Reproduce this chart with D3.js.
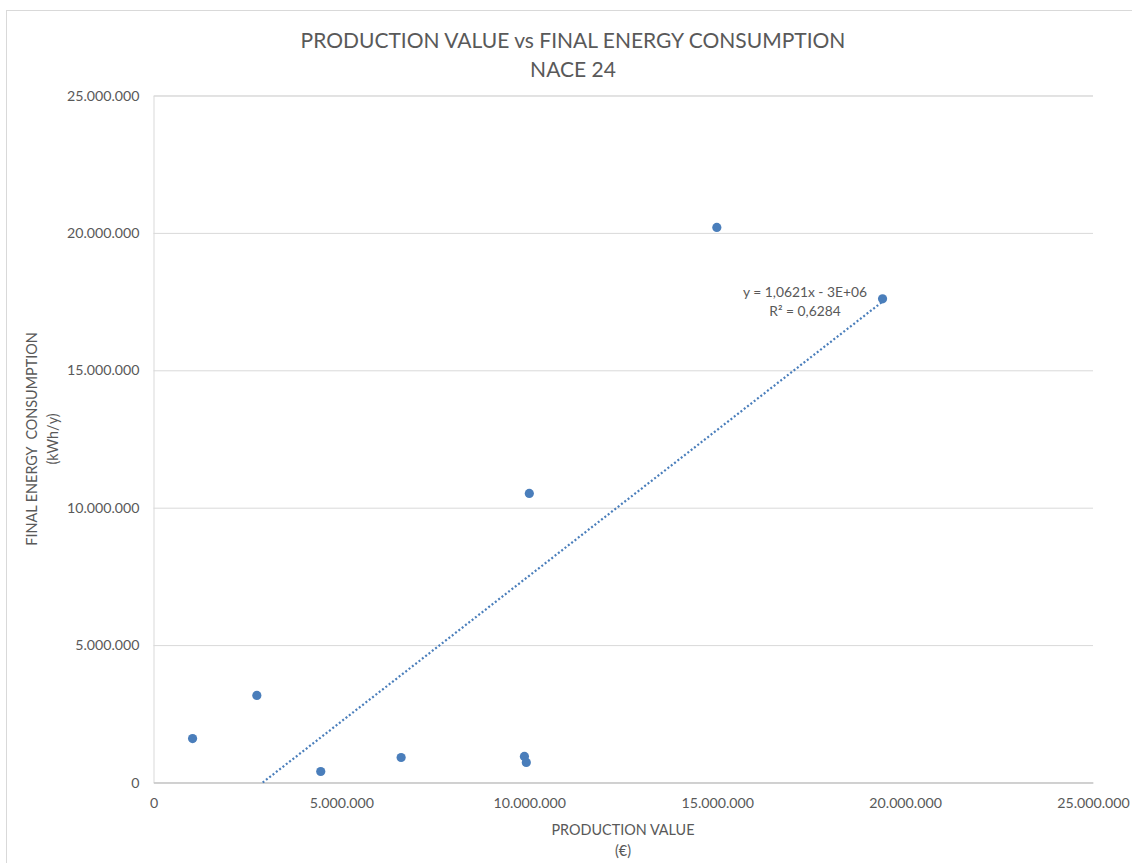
<!DOCTYPE html>
<html><head><meta charset="utf-8">
<script src="https://cdn.jsdelivr.net/npm/d3@7"></script>
<style>body{margin:0;background:#fff;} svg{display:block;font-family:Lato,"Open Sans",sans-serif;}</style>
</head><body>
<svg id="c" width="1132" height="863"></svg>
<script>
const productionValue = [1040000, 2750000, 4450000, 6590000, 9870000, 9920000, 10000000, 14990000, 19400000];
const energyConsumption = [1600000, 3170000, 400000, 910000, 950000, 730000, 10520000, 20200000, 17600000];
const tickValues = [0, 5000000, 10000000, 15000000, 20000000, 25000000];
const titleLines = ["PRODUCTION VALUE vs FINAL ENERGY CONSUMPTION", "NACE 24"];
const xTitleLines = ["PRODUCTION VALUE", "(€)"];
const yTitleLines = ["FINAL ENERGY  CONSUMPTION", "(kWh/y)"];
const trendLabel = ["y = 1,0621x - 3E+06", "R² = 0,6284"];

const svg = d3.select("#c");
const textCol = "#595959", gridCol = "#d9d9d9", ptCol = "#4a7ebb";
const fmt = v => v === 0 ? "0" : d3.format(",")(v).replace(/,/g, ".");

svg.append("rect").attr("x", 6.5).attr("y", 10.5).attr("width", 1140).attr("height", 870)
  .attr("fill", "#fff").attr("stroke", gridCol);

const x = d3.scaleLinear().domain([0, 25000000]).range([153.5, 1093]);
const y = d3.scaleLinear().domain([0, 25000000]).range([782.5, 95.5]);

// gridlines
const gy = svg.append("g").attr("transform", `translate(${x(0)},0)`)
  .call(d3.axisLeft(y).tickValues(tickValues).tickSize(-(x(25000000) - x(0))).tickFormat(fmt).tickPadding(14));
gy.select(".domain").attr("stroke", gridCol);
gy.selectAll(".tick line").attr("stroke", gridCol);
gy.selectAll(".tick text").attr("fill", textCol).attr("font-size", 14.2).attr("font-family", "Lato");

const gx = svg.append("g").attr("transform", `translate(0,${y(0)})`)
  .call(d3.axisBottom(x).tickValues(tickValues).tickSize(0).tickFormat(fmt).tickPadding(15));
gx.select(".domain").attr("stroke", "#bfbfbf");
gx.selectAll(".tick text").attr("fill", textCol).attr("font-size", 14.2).attr("font-family", "Lato");

// trend line (least squares)
const n = productionValue.length;
const mx = d3.mean(productionValue), my = d3.mean(energyConsumption);
let sxy = 0, sxx = 0;
for (let i = 0; i < n; i++) { sxy += (productionValue[i]-mx)*(energyConsumption[i]-my); sxx += (productionValue[i]-mx)**2; }
const slope = sxy / sxx, icpt = my - slope * mx;
const x0 = -icpt / slope, x1 = d3.max(productionValue);
svg.append("line")
  .attr("x1", x(x0)).attr("y1", y(slope*x0+icpt)).attr("x2", x(x1)).attr("y2", y(slope*x1+icpt))
  .attr("stroke", ptCol).attr("stroke-width", 2.2).attr("stroke-dasharray", "2,2.2");

// points
svg.append("g").selectAll("circle").data(productionValue).join("circle")
  .attr("cx", d => x(d)).attr("cy", (d, i) => y(energyConsumption[i])).attr("r", 4.6)
  .attr("fill", ptCol);

// trend label
svg.append("g").selectAll("text").data(trendLabel).join("text")
  .attr("x", 805).attr("y", (d, i) => 297 + i * 19).attr("text-anchor", "middle")
  .attr("fill", textCol).attr("font-size", 13.8).text(d => d);

// title
svg.append("g").selectAll("text").data(titleLines).join("text")
  .attr("x", 573).attr("y", (d, i) => 48 + i * 29).attr("text-anchor", "middle")
  .attr("fill", textCol).attr("font-size", 21).text(d => d);

// axis titles
svg.append("g").selectAll("text").data(xTitleLines).join("text")
  .attr("x", 623).attr("y", (d, i) => 835 + i * 21).attr("text-anchor", "middle")
  .attr("fill", textCol).attr("font-size", 14.4).text(d => d);

svg.append("g").selectAll("text").data(yTitleLines).join("text")
  .attr("transform", (d, i) => `translate(${37 + i * 21},439) rotate(-90)`)
  .attr("text-anchor", "middle").attr("fill", textCol).attr("font-size", 14.4)
  .attr("xml:space", "preserve").style("white-space", "pre").text(d => d);
</script>
</body></html>
